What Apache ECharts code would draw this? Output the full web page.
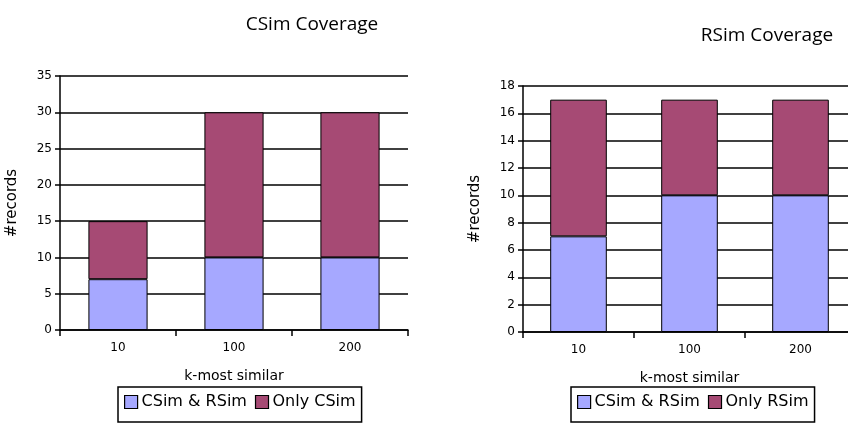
<!DOCTYPE html>
<html><head><meta charset="utf-8">
<script src="https://cdn.jsdelivr.net/npm/echarts@6/dist/echarts.min.js"></script>
<style>html,body{margin:0;padding:0;background:#fff}#c{width:848px;height:423px}</style>
</head><body><div id="c"></div>
<script>
var categories = ['10', '100', '200'];
var csimBoth = [7, 10, 10];
var csimOnly = [8, 20, 20];
var rsimBoth = [7, 10, 10];
var rsimOnly = [10, 7, 7];
var leftTicks = {min: 0, max: 35, interval: 5};
var rightTicks = {min: 0, max: 18, interval: 2};

var blue = '#a6a8ff', plum = '#a64a74';
var font = 'DejaVu Sans';
function xAxis(gi) {
  return {
    type: 'category', gridIndex: gi, data: categories,
    name: 'k-most similar', nameLocation: 'middle', nameGap: 39,
    nameTextStyle: {fontFamily: font, fontSize: 14, color: '#000'},
    axisLine: {lineStyle: {color: '#000', width: 1.5}},
    axisTick: {show: true, alignWithLabel: false, length: 6, lineStyle: {color: '#000', width: 1.5}},
    axisLabel: {fontFamily: font, fontSize: 12, color: '#000', margin: 12}
  };
}
function yAxis(gi, t) {
  return {
    type: 'value', gridIndex: gi, min: t.min, max: t.max, interval: t.interval,
    name: '#records', nameLocation: 'middle', nameGap: 40,
    nameTextStyle: {fontFamily: font, fontSize: 15, color: '#000'},
    axisLine: {show: true, lineStyle: {color: '#000', width: 1.5}},
    axisTick: {show: true, length: 5, lineStyle: {color: '#000', width: 1.5}},
    axisLabel: {fontFamily: font, fontSize: 12, color: '#000', margin: 8},
    splitLine: {show: true, lineStyle: {color: '#000', width: 1.5}}
  };
}
function bar(name, data, gi, color, stack) {
  return {
    type: 'bar', name: name, data: data, xAxisIndex: gi, yAxisIndex: gi, stack: stack,
    barWidth: '51%', itemStyle: {color: color, borderColor: '#000', borderWidth: 1},
    emphasis: {disabled: true}
  };
}
var legendBase = {
  orient: 'horizontal', borderColor: '#000', borderWidth: 1.5, backgroundColor: '#fff',
  padding: [7, 6, 12, 6], itemGap: 8, itemWidth: 13, itemHeight: 13, icon: 'rect',
  textStyle: {fontFamily: font, fontSize: 16, color: '#000', padding: [0, 0, 0, -1]},
  itemStyle: {borderColor: '#000', borderWidth: 1.2},
  selectedMode: false
};
var chart = echarts.init(document.getElementById('c'));
chart.setOption({
  animation: false,
  title: [
    {text: 'CSim Coverage', left: 307, top: 10, textAlign: 'center',
     textStyle: {fontFamily: 'Open Sans', fontSize: 19, fontWeight: 'normal', color: '#000'}},
    {text: 'RSim Coverage', left: 762, top: 21, textAlign: 'center',
     textStyle: {fontFamily: 'Open Sans', fontSize: 19, fontWeight: 'normal', color: '#000'}}
  ],
  legend: [
    Object.assign({}, legendBase, {left: 118, top: 387, data: ['CSim & RSim', 'Only CSim']}),
    Object.assign({}, legendBase, {left: 571, top: 387, data: ['CSim & RSim', 'Only RSim']})
  ],
  grid: [
    {left: 60, top: 76, width: 348, bottom: 93, outerBoundsMode: 'none'},
    {left: 523, top: 86, width: 333, bottom: 91, outerBoundsMode: 'none'}
  ],
  xAxis: [xAxis(0), xAxis(1)],
  yAxis: [yAxis(0, leftTicks), yAxis(1, rightTicks)],
  series: [
    bar('CSim & RSim', csimBoth, 0, blue, 'a'),
    bar('Only CSim', csimOnly, 0, plum, 'a'),
    bar('CSim & RSim', rsimBoth, 1, blue, 'b'),
    bar('Only RSim', rsimOnly, 1, plum, 'b')
  ]
});
</script></body></html>
